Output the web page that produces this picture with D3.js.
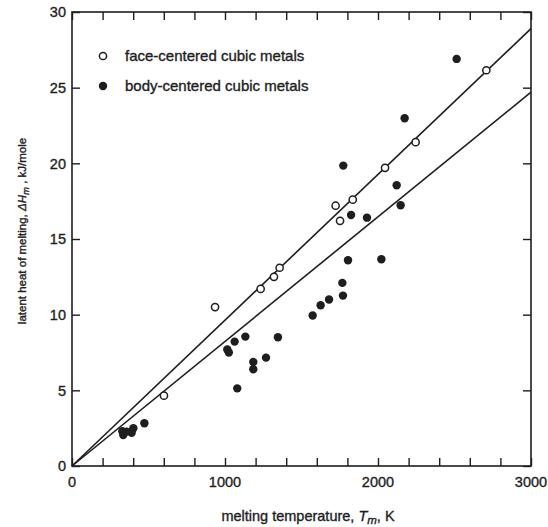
<!DOCTYPE html>
<html>
<head>
<meta charset="utf-8">
<script src="https://cdn.jsdelivr.net/npm/d3@7"></script>
<style>
  body { margin: 0; background: #fff; }
  svg { display: block; font-family: "Liberation Sans", Arial, sans-serif; }
  svg text { stroke: #1e1e1e; stroke-width: 0.35px; }
</style>
</head>
<body>
<svg width="548" height="527"></svg>
<script>
// melting temperature (K) and latent heat (kJ/mole)
const fccTemp = [601, 935, 1233, 1320, 1357, 1723, 1752, 1835, 2046, 2246, 2708];
const fccHeat = [4.65, 10.5, 11.7, 12.5, 13.1, 17.2, 16.2, 17.6, 19.7, 21.4, 26.15];

const bccTemp = [329, 335, 357, 401, 390, 473, 1015, 1025, 1063, 1133, 1080, 1185, 1185, 1268, 1346,
  1573, 1625, 1680, 1767, 1771, 1773, 1804, 1824, 1928, 2022, 2122, 2148, 2174, 2514];
const bccHeat = [2.3, 2.05, 2.27, 2.49, 2.2, 2.82, 7.7, 7.5, 8.22, 8.55, 5.13, 6.87, 6.39, 7.16, 8.51,
  9.94, 10.62, 11.0, 12.1, 11.26, 19.85, 13.6, 16.59, 16.41, 13.66, 18.55, 17.23, 22.98, 26.9];

// straight-line fits drawn through the origin
const fccFit = [[0, 0], [3000, 28.9]];
const bccFit = [[0, 0], [3000, 24.7]];

const xTicks = [0, 1000, 2000, 3000];
const yTicks = [0, 5, 10, 15, 20, 25, 30];

const margin = { top: 12, right: 17, bottom: 61, left: 72 };

const svg = d3.select("svg");
const width = +svg.attr("width") - margin.left - margin.right;
const height = +svg.attr("height") - margin.top - margin.bottom;
const g = svg.append("g").attr("transform", `translate(${margin.left},${margin.top})`);
const ink = "#1e1e1e";

const x = d3.scaleLinear().domain([0, 3000]).range([0, width]);
const y = d3.scaleLinear().domain([0, 30]).range([height, 0]);

// axes: ticks point inward on all four sides
const minorX = d3.range(0, 3001, 200);
const tk = 8;

g.append("g")
  .attr("transform", `translate(0,${height})`)
  .call(d3.axisTop(x).tickValues(minorX).tickSize(tk).tickFormat(""))
  .call(a => a.select(".domain").remove());
g.append("g")
  .call(d3.axisBottom(x).tickValues(minorX).tickSize(tk).tickFormat(""))
  .call(a => a.select(".domain").remove());
g.append("g")
  .call(d3.axisRight(y).tickValues(yTicks).tickSize(tk).tickFormat(""))
  .call(a => a.select(".domain").remove());
g.append("g")
  .attr("transform", `translate(${width},0)`)
  .call(d3.axisLeft(y).tickValues(yTicks).tickSize(tk).tickFormat(""))
  .call(a => a.select(".domain").remove());
g.selectAll(".tick line").attr("stroke", ink).attr("stroke-width", 1.4);

// tick labels
g.append("g")
  .selectAll("text")
  .data(xTicks)
  .join("text")
  .attr("x", d => x(d))
  .attr("y", height + 21)
  .attr("text-anchor", "middle")
  .attr("font-size", 14.5)
  .attr("fill", ink)
  .text(d => d);

g.append("g")
  .selectAll("text")
  .data(yTicks)
  .join("text")
  .attr("x", -6)
  .attr("y", d => y(d))
  .attr("dy", "0.36em")
  .attr("text-anchor", "end")
  .attr("font-size", 14.5)
  .attr("fill", ink)
  .text(d => d);

// frame
g.append("rect")
  .attr("width", width)
  .attr("height", height)
  .attr("fill", "none")
  .attr("stroke", ink)
  .attr("stroke-width", 1.6);

// fit lines
const line = d3.line().x(d => x(d[0])).y(d => y(d[1]));
[fccFit, bccFit].forEach(fit => {
  g.append("path")
    .datum(fit)
    .attr("fill", "none")
    .attr("stroke", ink)
    .attr("stroke-width", 1.6)
    .attr("d", line);
});

// points
g.append("g")
  .selectAll("circle")
  .data(bccTemp.map((t, i) => [t, bccHeat[i]]))
  .join("circle")
  .attr("cx", d => x(d[0]))
  .attr("cy", d => y(d[1]))
  .attr("r", 4.2)
  .attr("fill", ink);

g.append("g")
  .selectAll("circle")
  .data(fccTemp.map((t, i) => [t, fccHeat[i]]))
  .join("circle")
  .attr("cx", d => x(d[0]))
  .attr("cy", d => y(d[1]))
  .attr("r", 3.6)
  .attr("fill", "#fff")
  .attr("stroke", ink)
  .attr("stroke-width", 1.5);

// legend
const legend = g.append("g").attr("transform", "translate(31,44)");
legend.append("circle").attr("cx", 0).attr("cy", 0).attr("r", 3.6)
  .attr("fill", "#fff").attr("stroke", ink).attr("stroke-width", 1.5);
legend.append("circle").attr("cx", 0).attr("cy", 30).attr("r", 4.2).attr("fill", ink);
legend.append("text").attr("x", 22).attr("y", 0).attr("dy", "0.35em")
  .attr("font-size", 15).attr("fill", ink).text("face-centered cubic metals");
legend.append("text").attr("x", 22).attr("y", 30).attr("dy", "0.35em")
  .attr("font-size", 15).attr("fill", ink).text("body-centered cubic metals");

// axis titles
const xt = svg.append("text")
  .attr("x", 308)
  .attr("y", 521)
  .attr("text-anchor", "middle")
  .attr("font-size", 14.5)
  .attr("fill", ink);
xt.append("tspan").text("melting temperature, ");
xt.append("tspan").attr("font-style", "italic").text("T");
xt.append("tspan").attr("font-style", "italic").attr("font-size", 11.5).attr("dy", 3).text("m");
xt.append("tspan").attr("dy", -3).text(", K");

const yt = svg.append("text")
  .attr("transform", "translate(26,231) rotate(-90)")
  .attr("text-anchor", "middle")
  .attr("font-size", 11.5)
  .attr("fill", ink);
yt.append("tspan").text("latent heat of melting, ");
yt.append("tspan").attr("font-style", "italic").text("ΔH");
yt.append("tspan").attr("font-style", "italic").attr("font-size", 9.5).attr("dy", 3).text("m");
yt.append("tspan").attr("dy", -3).text(" , kJ/mole");
</script>
</body>
</html>
